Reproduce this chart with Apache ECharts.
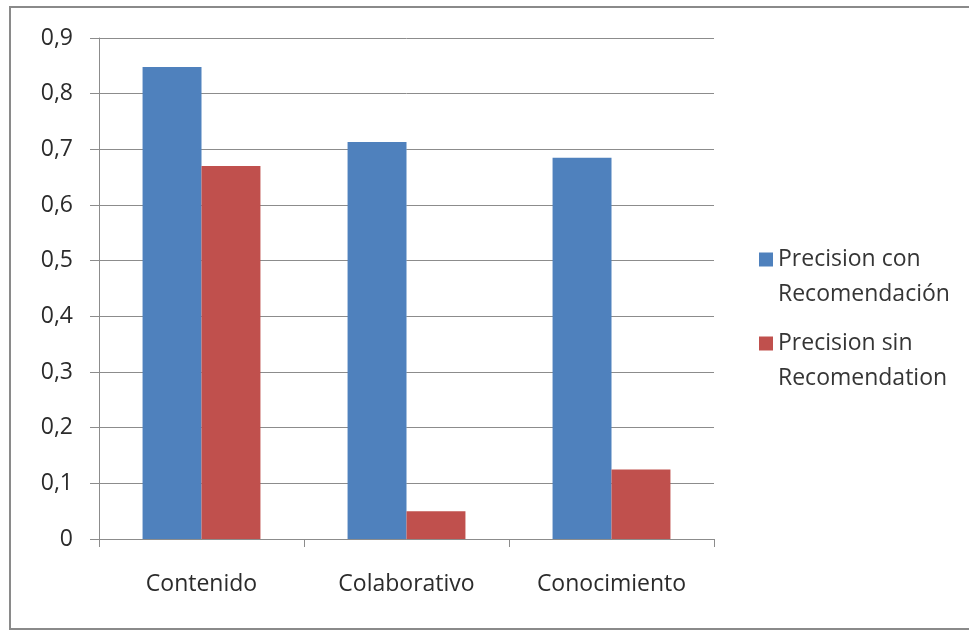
<!DOCTYPE html>
<html>
<head>
<meta charset="utf-8">
<script src="https://cdn.jsdelivr.net/npm/echarts@6/dist/echarts.min.js"></script>
<style>
  html, body { margin: 0; padding: 0; background: #fff; }
  #chart { width: 969px; height: 630px; }
</style>
</head>
<body>
<div id="chart"></div>
<script>
const categories = ['Contenido', 'Colaborativo', 'Conocimiento']
const seriesNames = ['Precision con Recomendación', 'Precision sin Recomendation']
const conRecomendacion = [0.848, 0.713, 0.685]
const sinRecomendacion = [0.670, 0.050, 0.125]

const gridColor = '#8c8c8c'
const textColor = '#2b2b2b'
const fontFamily = '"Open Sans", "Noto Sans", sans-serif'

// blank first line so the icon lines up with the first text line
function legendAt(name, top) {
  return {
    data: [name],
    orient: 'vertical',
    left: 754,
    top: top,
    icon: 'rect',
    itemWidth: 14,
    itemHeight: 14,
    itemGap: 0,
    formatter: n => '\n' + n.replace(/ (Recom)/, '\n$1'),
    textStyle: {
      color: '#353535',
      fontSize: 23,
      fontFamily,
      lineHeight: 35,
    },
  }
}

const chart = echarts.init(document.getElementById('chart'))

chart.setOption({
  backgroundColor: '#ffffff',
  animation: false,
  graphic: [
    {
      type: 'rect',
      shape: { x: 10, y: 7, width: 975, height: 622 },
      style: { fill: 'none', stroke: '#8a8a8a', lineWidth: 2 },
      silent: true,
    },
  ],
  legend: [legendAt(seriesNames[0], 202), legendAt(seriesNames[1], 286)],
  grid: { left: 99, right: 255, top: 38, bottom: 91, containLabel: false },
  xAxis: {
    type: 'category',
    data: categories,
    axisLine: { lineStyle: { color: gridColor, width: 1 } },
    axisTick: { show: true, length: 8, lineStyle: { color: gridColor } },
    axisLabel: { color: textColor, fontSize: 23, fontFamily, margin: 34 },
  },
  yAxis: {
    type: 'value',
    min: 0,
    max: 0.9,
    interval: 0.1,
    axisLine: { show: true, lineStyle: { color: gridColor, width: 1 } },
    axisTick: { show: true, length: 9, lineStyle: { color: gridColor } },
    splitLine: { lineStyle: { color: gridColor, width: 1 } },
    axisLabel: {
      color: textColor,
      fontSize: 23,
      fontFamily,
      margin: 26,
      formatter: v => (v === 0 ? '0' : v.toFixed(1).replace('.', ',')),
    },
  },
  series: [
    {
      name: seriesNames[0],
      type: 'bar',
      data: conRecomendacion,
      barGap: '0%',
      barCategoryGap: '42.5%',
      itemStyle: { color: '#4f81bd' },
    },
    {
      name: seriesNames[1],
      type: 'bar',
      data: sinRecomendacion,
      itemStyle: { color: '#c0504d' },
    },
  ],
})
</script>
</body>
</html>
